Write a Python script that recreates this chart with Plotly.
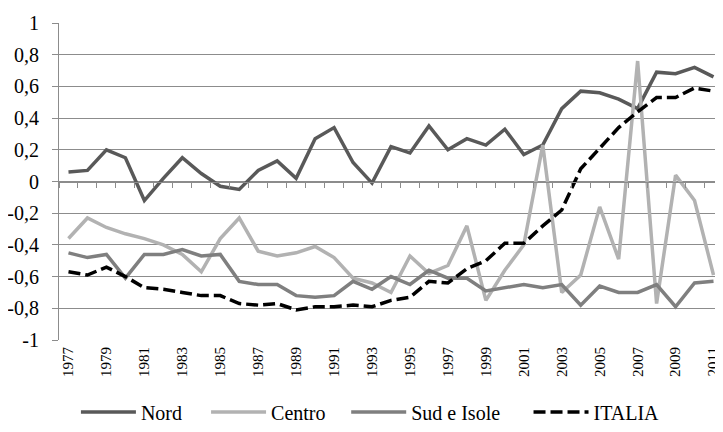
import plotly.graph_objects as go

years = list(range(1977, 2012))

nord = [0.06, 0.07, 0.20, 0.15, -0.12, 0.02, 0.15, 0.05, -0.03, -0.05,
        0.07, 0.13, 0.02, 0.27, 0.34, 0.12, -0.01, 0.22, 0.18, 0.35,
        0.20, 0.27, 0.23, 0.33, 0.17, 0.23, 0.46, 0.57, 0.56, 0.52,
        0.46, 0.69, 0.68, 0.72, 0.66]
centro = [-0.36, -0.23, -0.29, -0.33, -0.36, -0.40, -0.46, -0.57, -0.36, -0.23,
          -0.44, -0.47, -0.45, -0.41, -0.48, -0.61, -0.64, -0.70, -0.47, -0.58,
          -0.53, -0.28, -0.75, -0.56, -0.40, 0.23, -0.70, -0.59, -0.16, -0.49,
          0.76, -0.77, 0.04, -0.12, -0.59]
sud = [-0.45, -0.48, -0.46, -0.61, -0.46, -0.46, -0.43, -0.47, -0.46, -0.63,
       -0.65, -0.65, -0.72, -0.73, -0.72, -0.63, -0.68, -0.60, -0.65, -0.56,
       -0.61, -0.61, -0.69, -0.67, -0.65, -0.67, -0.65, -0.78, -0.66, -0.70,
       -0.70, -0.65, -0.79, -0.64, -0.63]
italia = [-0.57, -0.59, -0.54, -0.60, -0.67, -0.68, -0.70, -0.72, -0.72, -0.77,
          -0.78, -0.77, -0.81, -0.79, -0.79, -0.78, -0.79, -0.75, -0.73, -0.63,
          -0.64, -0.55, -0.50, -0.39, -0.39, -0.28, -0.18, 0.08, 0.21, 0.34,
          0.44, 0.53, 0.53, 0.59, 0.57]

y_ticks = [1, 0.8, 0.6, 0.4, 0.2, 0, -0.2, -0.4, -0.6, -0.8, -1]
y_labels = ["1", "0,8", "0,6", "0,4", "0,2", "0", "-0,2", "-0,4", "-0,6", "-0,8", "-1"]
x_ticks = years[::2]

SERIF = "Liberation Serif"
GRID = "#8c8c8c"

# name, values, colour, dash, legend id, legend x (container fraction)
series = [
    ("Nord", nord, "#595959", "solid", "legend", 0.095),
    ("Centro", centro, "#b2b2b2", "solid", "legend2", 0.277),
    ("Sud e Isole", sud, "#7f7f7f", "solid", "legend3", 0.473),
    ("ITALIA", italia, "#000000", "12px,5px", "legend4", 0.728),
]

fig = go.Figure()
for name, vals, color, dash, leg, _ in series:
    fig.add_trace(go.Scatter(
        x=years, y=vals, mode="lines", name=name, legend=leg,
        line=dict(color=color, width=3.5, dash=dash),
    ))

# invisible trace so the axis crossing at zero (with its tick marks) is drawn
fig.add_trace(go.Scatter(
    x=years, y=italia, xaxis="x2", mode="lines",
    line=dict(width=0), opacity=0, showlegend=False, hoverinfo="skip",
))

legends = {}
for _, _, _, _, leg, lx in series:
    legends[leg] = dict(
        orientation="h", xref="container", x=lx, xanchor="left",
        yref="container", y=0.047, yanchor="middle",
        font=dict(family=SERIF, size=20), itemwidth=55,
        bgcolor="rgba(0,0,0,0)",
    )

# page body has an 8px margin, so the figure is a bit smaller than the window
fig.update_layout(
    width=715, height=424,
    plot_bgcolor="white", paper_bgcolor="white",
    margin=dict(l=51, r=0, t=15, b=92, autoexpand=False),
    font=dict(family=SERIF, color="#000000", size=15),
    xaxis=dict(
        range=[1976.5, 2011.5],
        tickvals=x_ticks,
        ticktext=[str(y) for y in x_ticks],
        tickangle=-90,
        tickfont=dict(family=SERIF, size=15),
        showgrid=False, zeroline=False, showline=False,
        ticks="", ticklabelstandoff=3,
    ),
    xaxis2=dict(
        overlaying="x", anchor="free", position=0.5,
        range=[1976.5, 2011.5],
        tick0=1976.5, dtick=1, tickmode="linear",
        ticks="outside", ticklen=5, tickcolor=GRID, tickwidth=1,
        showticklabels=False, showgrid=False, zeroline=False,
        showline=True, linecolor=GRID, linewidth=1,
    ),
    yaxis=dict(
        range=[-1, 1],
        tickvals=y_ticks, ticktext=y_labels,
        gridcolor=GRID, gridwidth=1,
        zeroline=False,
        showline=True, linecolor=GRID, linewidth=1,
        ticks="outside", ticklen=6, tickcolor=GRID,
        tickfont=dict(family=SERIF, size=20),
        ticklabelstandoff=9,
    ),
    showlegend=True,
    **legends,
)

fig.write_html("out.html")
